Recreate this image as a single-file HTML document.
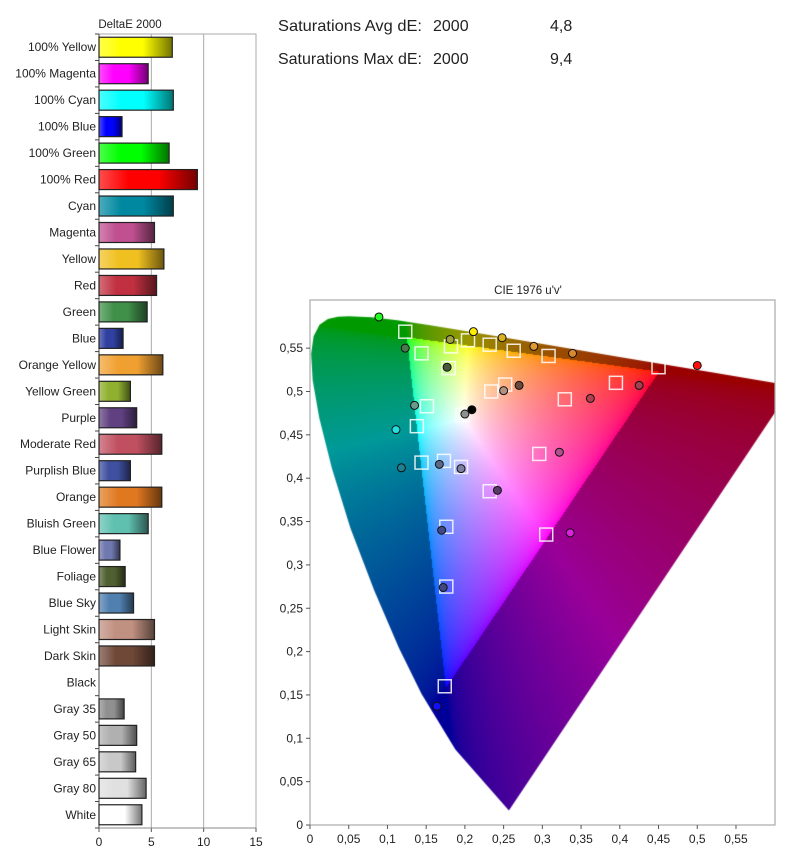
<!DOCTYPE html>
<html><head><meta charset="utf-8">
<style>
html,body{margin:0;padding:0;background:#fff;}
body{width:785px;height:863px;position:relative;overflow:hidden;font-family:"Liberation Sans",sans-serif;}
svg{position:absolute;left:0;top:0;}
canvas{position:absolute;left:310px;top:300px;}
</style></head><body>
<canvas id="cie" width="465" height="525"></canvas>
<svg id="main" width="785" height="863"></svg>
<script>
// ---- Bar chart data ----
const barLabels = ["100% Yellow","100% Magenta","100% Cyan","100% Blue","100% Green","100% Red","Cyan","Magenta","Yellow","Red","Green","Blue","Orange Yellow","Yellow Green","Purple","Moderate Red","Purplish Blue","Orange","Bluish Green","Blue Flower","Foliage","Blue Sky","Light Skin","Dark Skin","Black","Gray 35","Gray 50","Gray 65","Gray 80","White"];
const barValues = [7.0,4.7,7.1,2.2,6.7,9.4,7.1,5.3,6.2,5.5,4.6,2.3,6.1,3.0,3.6,6.0,3.0,6.0,4.7,2.0,2.5,3.3,5.3,5.3,0,2.4,3.6,3.5,4.5,4.1];
const barColors = ["#ffff00","#ff00ff","#00ffff","#0000ff","#00ff00","#ff0000","#0088a0","#c05090","#f0c020","#c03040","#40904a","#3040a0","#f0a030","#90b030","#604080","#c05060","#4050a0","#e07820","#60c0b0","#7078b0","#506030","#5080b0","#c09080","#704838","#000000","#909090","#b0b0b0","#c8c8c8","#e0e0e0","#ffffff"];
const xTicks = [0,5,10,15];
const headerRows = [["Saturations Avg dE:","2000","4,8"],["Saturations Max dE:","2000","9,4"]];

// ---- CIE data ----
const measU = [0.089,0.211,0.181,0.248,0.289,0.339,0.500,0.123,0.177,0.270,0.250,0.425,0.362,0.135,0.111,0.209,0.200,0.322,0.118,0.167,0.195,0.242,0.170,0.336,0.172,0.164];
const measV = [0.586,0.569,0.560,0.562,0.552,0.544,0.530,0.550,0.528,0.507,0.501,0.507,0.492,0.484,0.456,0.479,0.474,0.430,0.412,0.416,0.411,0.386,0.340,0.337,0.274,0.137];
const measColors = ["#20ff20","#ffee00","#a0a040","#d8b020","#e09a30","#d88a30","#ff1010","#4a7a4a","#4a5a3a","#6a4a3a","#b09080","#a04050","#b04050","#6a9a8a","#20e0e0","#000000","#909090","#b05090","#208090","#5a6a8a","#8080a0","#5a3a6a","#404a8a","#e020e0","#404880","#1010ff"];
const targU = [0.123,0.144,0.182,0.204,0.232,0.263,0.308,0.450,0.179,0.252,0.234,0.395,0.329,0.151,0.197,0.138,0.296,0.144,0.173,0.195,0.232,0.176,0.305,0.176,0.174];
const targV = [0.569,0.544,0.552,0.559,0.554,0.547,0.541,0.528,0.527,0.508,0.500,0.510,0.491,0.483,0.473,0.460,0.428,0.418,0.420,0.413,0.385,0.344,0.335,0.275,0.160];
const uTicks = [0,0.05,0.1,0.15,0.2,0.25,0.3,0.35,0.4,0.45,0.5,0.55];
const vTicks = [0,0.05,0.1,0.15,0.2,0.25,0.3,0.35,0.4,0.45,0.5,0.55];

const NS="http://www.w3.org/2000/svg";
const svg=document.getElementById('main');
function mk(tag,attrs,parent){const e=document.createElementNS(NS,tag);for(const k in attrs)e.setAttribute(k,attrs[k]);(parent||svg).appendChild(e);return e;}
function txt(s,attrs,parent){const e=mk('text',attrs,parent);e.textContent=s;return e;}

// header
headerRows.forEach((r,i)=>{
  const y=31+i*33;
  const g=mk('g',{});
  
  
  txt(r[0],{x:278,y:y,'font-size':16,fill:'#222',textLength:144,lengthAdjust:'spacingAndGlyphs'},g);
  txt(r[1],{x:433,y:y,'font-size':16,fill:'#222'},g);
  txt(r[2],{x:550,y:y,'font-size':16,fill:'#222'},g);
});

// ---- Bar chart ----
const bx0=99,bx1=256,by0=34,by1=828,xMax=15;
function xs(v){return bx0+(bx1-bx0)*v/xMax;}
const rowH=(by1-by0)/barLabels.length;
function ys(i){return by0+rowH*(i+0.5);}
const bg=mk('g',{});


mk('rect',{x:bx0,y:by0,width:bx1-bx0,height:by1-by0,fill:'#fff',stroke:'#aaa','stroke-width':1},bg);
const bt=txt('DeltaE 2000',{x:130,y:28,'font-size':11.5,'text-anchor':'middle',fill:'#222'},bg);

xTicks.forEach(t=>{
  if(t>0&&t<xMax){const gl=mk('line',{x1:xs(t),x2:xs(t),y1:by0,y2:by1,stroke:'#aaa','stroke-width':1},bg);}
  mk('line',{x1:xs(t),x2:xs(t),y1:by1,y2:by1+4,stroke:'#555'},bg);
  const l=txt(String(t),{x:xs(t),y:by1+18,'font-size':12,'text-anchor':'middle',fill:'#222'},bg);
  
});
mk('line',{x1:bx0,x2:bx0,y1:by0,y2:by1,stroke:'#444'},bg);
mk('line',{x1:bx0,x2:bx1,y1:by1,y2:by1,stroke:'#888'},bg);
const defs=mk('defs',{});
function shade(hex,f){const n=parseInt(hex.slice(1),16);let r=n>>16,g=(n>>8)&255,b=n&255;
  if(f>0){r+= (255-r)*f;g+=(255-g)*f;b+=(255-b)*f;}else{r*=1+f;g*=1+f;b*=1+f;}
  return 'rgb('+Math.round(r)+','+Math.round(g)+','+Math.round(b)+')';}
barLabels.forEach((lab,i)=>{
  const y=ys(i);
  mk('line',{x1:bx0-4,x2:bx0,y1:by0+rowH*i,y2:by0+rowH*i,stroke:'#444'},bg);
  const l=txt(lab,{x:bx0-3,y:y+4,'font-size':12,'text-anchor':'end',fill:'#222'},bg);
  
  const gid='bg'+i;
  const gr=mk('linearGradient',{id:gid,x1:0,x2:1,y1:0,y2:0},defs);
  mk('stop',{offset:'0','stop-color':shade(barColors[i],0.3)},gr);
  mk('stop',{offset:'0.3','stop-color':barColors[i]},gr);
  mk('stop',{offset:'0.6','stop-color':barColors[i]},gr);
  mk('stop',{offset:'1','stop-color':shade(barColors[i],-0.55)},gr);
  if(barValues[i]>0){
    const r=mk('rect',{x:bx0,y:y-10,width:xs(barValues[i])-bx0,height:20,fill:'url(#'+gid+')',stroke:'#222','stroke-width':1.2},bg);
    
    
  }
});
mk('line',{x1:bx0-4,x2:bx0,y1:by1,y2:by1,stroke:'#444'},bg);

// ---- CIE chart ----
const cx0=310,cx1=775,cy0=300,cy1=825;
const uMax=(cx1-cx0)/774.5, vMax=(cy1-cy0)/867;
function us(u){return cx0+u*774.5;}
function vs(v){return cy1-v*867;}
const cg=mk('g',{});


mk('rect',{x:cx0,y:cy0,width:cx1-cx0,height:cy1-cy0,fill:'none',stroke:'#aaa','stroke-width':1.2},cg);
const ct=txt("CIE 1976 u'v'",{x:528,y:294,'font-size':11.5,'text-anchor':'middle',fill:'#222'},cg);

uTicks.forEach(t=>{
  mk('line',{x1:us(t),x2:us(t),y1:cy1,y2:cy1+4,stroke:'#555'},cg);
  const l=txt(String(t).replace('.',','),{x:us(t),y:cy1+18,'font-size':12,'text-anchor':'middle',fill:'#222'},cg);
  
});
vTicks.forEach(t=>{
  mk('line',{x1:cx0-4,x2:cx0,y1:vs(t),y2:vs(t),stroke:'#555'},cg);
  const l=txt(String(t).replace('.',','),{x:cx0-7,y:vs(t)+4,'font-size':12,'text-anchor':'end',fill:'#222'},cg);
  
});
targU.forEach((u,i)=>{
  const r=mk('rect',{x:us(u)-6.5,y:vs(targV[i])-6.5,width:13,height:13,fill:'none',stroke:'rgba(255,255,255,0.85)','stroke-width':1.5},cg);
  
  
});
measU.forEach((u,i)=>{
  const c=mk('circle',{cx:us(u),cy:vs(measV[i]),r:4,fill:measColors[i],stroke:'#111','stroke-width':1},cg);
  
  
});

// spectral locus painting
const locusXY=[[0.1741,0.0050],[0.1440,0.0297],[0.1241,0.0578],[0.1096,0.0868],[0.0913,0.1327],[0.0687,0.2007],[0.0454,0.2950],[0.0235,0.4127],[0.0082,0.5384],[0.0039,0.6548],[0.0139,0.7502],[0.0389,0.8120],[0.0743,0.8338],[0.1142,0.8262],[0.1547,0.8059],[0.2296,0.7543],[0.3016,0.6923],[0.3731,0.6245],[0.4441,0.5547],[0.5125,0.4866],[0.6270,0.3725],[0.6915,0.3083],[0.7347,0.2653]];
(function(){
  const cv=document.getElementById('cie');const ctx=cv.getContext('2d');
  const W=cv.width,H=cv.height;
  const off=document.createElement('canvas');off.width=W;off.height=H;
  const octx=off.getContext('2d');const img=octx.createImageData(W,H);
  const gam=c=>c<=0.0031308?12.92*c:1.055*Math.pow(c,1/2.4)-0.055;
  for(let py=0;py<H;py++)for(let px=0;px<W;px++){
    const u=(px+0.5)/774.5, v=(H-py-0.5)/867;
    const d=6*u-16*v+12; const x=9*u/d, y=4*v/d;
    if(y<=0.001)continue;
    const X=x/y,Y=1,Z=(1-x-y)/y;
    let r=3.2406*X-1.5372*Y-0.4986*Z,g=-0.9689*X+1.8758*Y+0.0415*Z,b=0.0557*X-0.2040*Y+1.0570*Z;
    let f=1;
    if(r<0||g<0||b<0){r=Math.max(r,0);g=Math.max(g,0);b=Math.max(b,0);f=0.6;}
    const m=Math.max(r,g,b)||1;
    const k=(py*W+px)*4;
    img.data[k]=255*gam(r/m)*f;img.data[k+1]=255*gam(g/m)*f;img.data[k+2]=255*gam(b/m)*f;img.data[k+3]=255;
  }
  octx.putImageData(img,0,0);
  ctx.beginPath();
  locusXY.forEach((p,i)=>{const d=-2*p[0]+12*p[1]+3;const u=4*p[0]/d,v=9*p[1]/d;
    const X=u*774.5,Y=H-v*867; if(i===0)ctx.moveTo(X,Y);else ctx.lineTo(X,Y);});
  ctx.closePath();ctx.clip();ctx.drawImage(off,0,0);
})();
</script>
</body></html>
